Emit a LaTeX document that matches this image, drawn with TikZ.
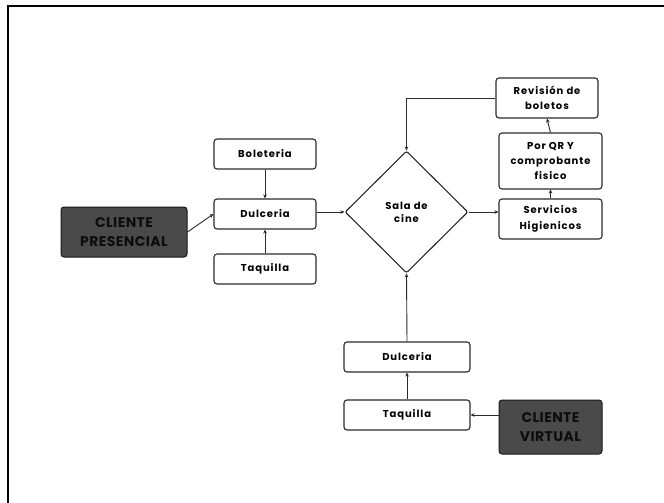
\documentclass[tikz,border=0pt]{standalone}
\usepackage{fontspec}
\setmainfont{Poppins}
\newfontfamily\boxfont[LetterSpace=9]{Poppins}
\newfontfamily\clientfont[LetterSpace=3]{Poppins}
\usetikzlibrary{shapes.geometric,arrows.meta}
\definecolor{darkfill}{HTML}{4A4A4A}
\definecolor{edge}{HTML}{2A2A2A}
\begin{document}
\begin{tikzpicture}[x=1pt,y=-1pt,
  box/.style={draw=edge, line width=1.1pt, rounded corners=3pt, fill=white,
    minimum width=102pt, minimum height=30pt, align=center, inner sep=1pt,
    font=\boxfont\bfseries\fontsize{10}{15.3}\selectfont},
  client/.style={draw=black!90, line width=1pt, rounded corners=3pt, fill=darkfill,
    text=black!95, minimum width=126pt, minimum height=50pt, align=center, inner sep=1pt,
    font=\clientfont\bfseries\fontsize{14}{18.3}\selectfont},
  dia/.style={diamond, draw=edge, line width=1.1pt, fill=white, rounded corners=2pt,
    minimum width=123pt, minimum height=122pt, inner sep=0pt, align=center,
    font=\boxfont\bfseries\fontsize{10}{13}\selectfont},
  arr/.style={-{Stealth[length=4pt,width=3.6pt]}, line width=0.9pt, draw=edge}]
\useasboundingbox (0,0) rectangle (664,503);
\fill[white] (0,0) rectangle (664,503);
\draw[line width=2pt, black] (8,503) -- (8,6) -- (664,6);

\node[box] (bol) at (265,154) {Boleteria};
\node[box] (dulL) at (265,214) {Dulceria};
\node[box] (taqL) at (265,269) {Taquilla};
\node[client] (cp) at (124,232) {CLIENTE\\PRESENCIAL};
\node[dia] (sala) at (406.5,212) {Sala de\\cine};
\node[box, minimum height=40pt] (rev) at (547,98) {Revisión de\\boletos};
\node[box, minimum width=103pt, minimum height=56pt] (qr) at (550.5,161) {Por QR Y\\comprobante\\fisico};
\node[box, minimum width=103pt, minimum height=40pt] (serv) at (550.5,219) {Servicios\\Higienicos};
\node[box, minimum width=126pt] (dulB) at (407,357) {Dulceria};
\node[box, minimum width=126pt] (taqB) at (407,415) {Taquilla};
\node[client, minimum width=103pt, minimum height=54pt] (cv) at (550.5,427) {CLIENTE\\VIRTUAL};

\draw[arr] (cp.east) -- (dulL.west);
\draw[arr] (bol.south) -- (dulL.north);
\draw[arr] (taqL.north) -- (dulL.south);
\draw[arr] (sala.west -| dulL.east) -- (sala.west);
\draw[arr] (sala.east) -- (sala.east -| serv.west);
\draw[arr] (serv.north) -- (qr.south);
\draw[arr] (qr.north) -- (rev.south);
\draw[arr] (rev.west) -| (sala.north);
\draw[arr] (dulB.north) -- (sala.south);
\draw[arr] (taqB.north) -- (dulB.south);
\draw[arr] (taqB.east -| cv.west) -- (taqB.east);
\end{tikzpicture}
\end{document}
